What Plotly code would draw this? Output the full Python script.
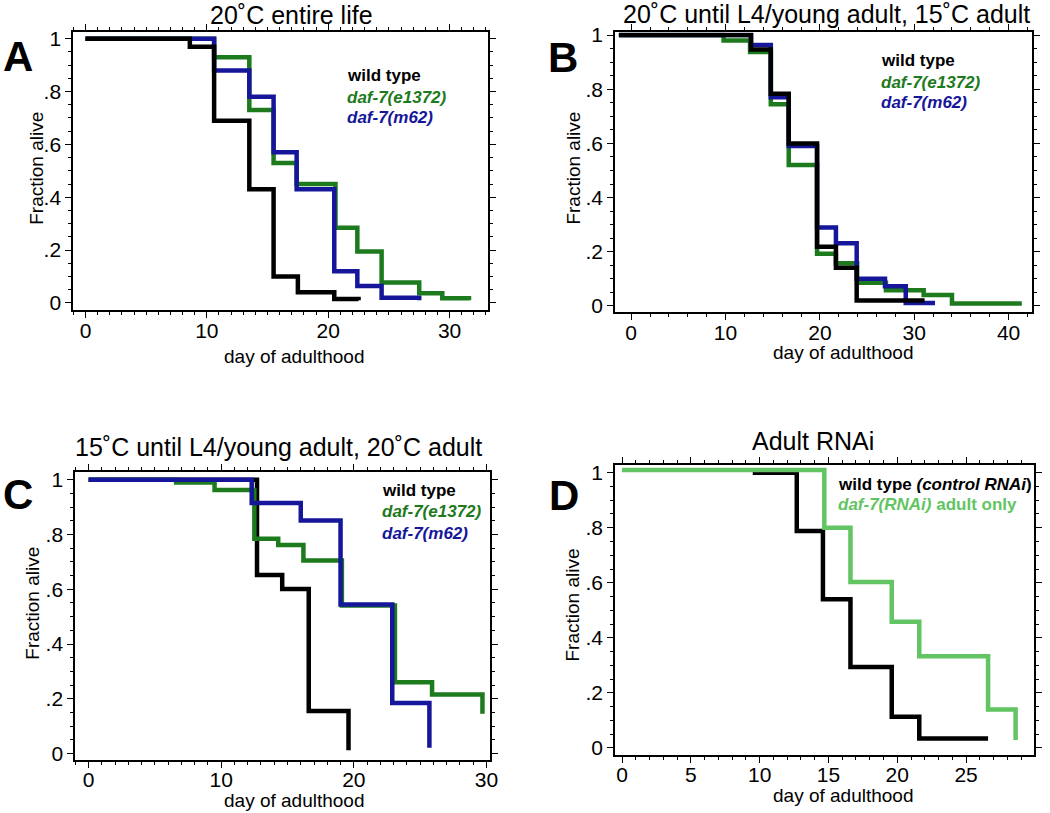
import plotly.graph_objects as go

# ---------------- data ----------------
# Panel A: 20˚C entire life
a_wt_x = [0, 8.6, 10.6, 13.5, 15.5, 17.5, 20.5, 22.5]
a_wt_y = [1.0, 0.97, 0.69, 0.43, 0.10, 0.04, 0.015, 0.01]
a_e1372_x = [0, 10.6, 13.5, 15.5, 17.4, 20.6, 22.4, 24.4, 27.5, 29.4, 31.6]
a_e1372_y = [1.0, 0.93, 0.73, 0.53, 0.45, 0.285, 0.195, 0.077, 0.037, 0.018, 0.01]
a_m62_x = [0, 10.6, 13.5, 15.5, 17.4, 20.5, 22.4, 24.4, 27.5]
a_m62_y = [1.0, 0.88, 0.78, 0.57, 0.43, 0.12, 0.064, 0.02, 0.01]

# Panel B: 20˚C until L4/young adult, 15˚C adult
b_wt_x = [-1.3, 12.7, 14.8, 16.7, 19.7, 21.7, 23.9, 31.1]
b_wt_y = [1.0, 0.947, 0.783, 0.60, 0.218, 0.141, 0.02, 0.02]
b_e1372_x = [-1.3, 9.8, 12.6, 14.8, 16.7, 19.7, 21.7, 23.95, 27.0, 31.0, 34.0, 41.4]
b_e1372_y = [1.0, 0.98, 0.938, 0.745, 0.52, 0.192, 0.157, 0.085, 0.058, 0.04, 0.009, 0.009]
b_m62_x = [-1.3, 12.7, 14.8, 16.7, 19.7, 21.7, 23.9, 26.9, 29.1, 32.2]
b_m62_y = [1.0, 0.963, 0.77, 0.59, 0.289, 0.231, 0.10, 0.072, 0.01, 0.01]

# Panel C: 15˚C until L4/young adult, 20˚C adult
c_wt_x = [0, 12.7, 14.6, 16.6, 19.6]
c_wt_y = [1.0, 0.652, 0.601, 0.156, 0.012]
c_e1372_x = [0, 6.6, 9.5, 12.5, 14.3, 16.2, 19.1, 23.1, 25.9, 29.7]
c_e1372_y = [1.0, 0.99, 0.962, 0.784, 0.762, 0.705, 0.541, 0.261, 0.216, 0.146]
c_m62_x = [0, 12.3, 16.0, 19.0, 22.9, 25.7]
c_m62_y = [1.0, 0.915, 0.851, 0.544, 0.185, 0.022]

# Panel D: Adult RNAi
d_wt_x = [9.5, 12.7, 14.6, 16.6, 19.6, 21.6, 26.6]
d_wt_y = [1.0, 0.788, 0.54, 0.294, 0.113, 0.034, 0.034]
d_rnai_x = [0, 14.7, 16.6, 19.6, 21.6, 26.6, 28.6]
d_rnai_y = [1.01, 0.80, 0.603, 0.458, 0.333, 0.139, 0.028]

y_tickvals = [0, 0.2, 0.4, 0.6, 0.8, 1.0]
y_ticktext = ["0", ".2", ".4", ".6", ".8", "1"]
a_xticks = [0, 10, 20, 30]
b_xticks = [0, 10, 20, 30, 40]
c_xticks = [0, 10, 20, 30]
d_xticks = [0, 5, 10, 15, 20, 25, 30]

titles = ["20˚C entire life",
          "20˚C until L4/young adult, 15˚C adult",
          "15˚C until L4/young adult, 20˚C adult",
          "Adult RNAi"]
panel_letters = ["A", "B", "C", "D"]

# ---------------- style ----------------
BLACK = "#000000"
GREEN = "#1d7a1d"
BLUE = "#16169a"
LGREEN = "#62c462"
FONT = "Liberation Sans, Arial, Helvetica, sans-serif"
W, H = 1050, 813

# compensation for the way the page is photographed
def tx(v):
    return (v + 2.5) / 0.9946

def ty(v):
    return (v - 8.6) / 0.983

def px_x(v):
    return tx(v) / W

def px_y(v):
    return 1 - ty(v) / H

fig = go.Figure()

def add_line(x, y, color, xa, ya):
    fig.add_trace(go.Scatter(x=x, y=y, mode="lines", line=dict(color=color, width=4.5, shape="hv"),
                             xaxis=xa, yaxis=ya, showlegend=False, hoverinfo="skip"))

# draw order per panel
add_line(a_e1372_x, a_e1372_y, GREEN, "x", "y")
add_line(a_m62_x, a_m62_y, BLUE, "x", "y")
add_line(a_wt_x, a_wt_y, BLACK, "x", "y")

add_line(b_e1372_x, b_e1372_y, GREEN, "x2", "y2")
add_line(b_m62_x, b_m62_y, BLUE, "x2", "y2")
add_line(b_wt_x, b_wt_y, BLACK, "x2", "y2")

add_line(c_wt_x, c_wt_y, BLACK, "x3", "y3")
add_line(c_e1372_x, c_e1372_y, GREEN, "x3", "y3")
add_line(c_m62_x, c_m62_y, BLUE, "x3", "y3")

add_line(d_wt_x, d_wt_y, BLACK, "x4", "y4")
add_line(d_rnai_x, d_rnai_y, LGREEN, "x4", "y4")

# panel geometry in pixels: left, right, top, bottom
boxes = [(71, 487, 32, 310), (614, 1032, 32, 312), (73, 489, 472, 760), (614, 1034, 465, 755)]
xranges = [[-1.0, 33.2], [-1.7, 42.5], [-1.0, 30.3], [-0.5, 29.95]]
yranges = [[-0.028, 1.024], [-0.024, 1.01], [-0.024, 1.027], [-0.027, 1.027]]
xtickvals = [a_xticks, b_xticks, c_xticks, d_xticks]
xminor = [1, 2, 1, 1]

axis_font = dict(family=FONT, size=21, color="black")
for i in range(4):
    l, r, t, b = boxes[i]
    sfx = "" if i == 0 else str(i + 1)
    fig.layout["xaxis" + sfx] = dict(
        domain=[px_x(l), px_x(r)], range=xranges[i], anchor="y" + sfx,
        tickmode="array", tickvals=xtickvals[i], ticks="outside", ticklen=6, tickwidth=1.2,
        tickcolor="black", showline=True, linecolor="black", linewidth=2, mirror="ticks",
        showgrid=False, zeroline=False, tickfont=axis_font, ticklabelstandoff=-6,
        minor=dict(dtick=xminor[i], tick0=0, ticks="outside", ticklen=3, tickcolor="black", showgrid=False),
    )
    fig.layout["yaxis" + sfx] = dict(
        domain=[px_y(b), px_y(t)], range=yranges[i], anchor="x" + sfx,
        tickmode="array", tickvals=y_tickvals, ticktext=y_ticktext, ticks="outside", ticklen=6,
        tickwidth=1.2, tickcolor="black", showline=True, linecolor="black", linewidth=2, mirror="ticks",
        showgrid=False, zeroline=False, tickfont=axis_font, ticklabelstandoff=0,
        minor=dict(dtick=0.05, tick0=0, ticks="outside", ticklen=3, tickcolor="black", showgrid=False),
    )

annotations = []

def ann(text, x, y, size, xanchor="center", yanchor="middle", angle=0, color="black"):
    annotations.append(dict(text=text, x=px_x(x), y=px_y(y), xref="paper", yref="paper",
                            showarrow=False, xanchor=xanchor, yanchor=yanchor, textangle=angle,
                            font=dict(family=FONT, size=size, color=color)))

# titles
title_pos = [(290, 15), (826, 14), (277, 447), (812, 441)]
for (tpx, tpy), tt in zip(title_pos, titles):
    ann(tt, tpx, tpy, 25)

# panel letters
letter_pos = [(16, 56), (562, 57), (16, 494), (563, 495)]
for (lx, ly), lt in zip(letter_pos, panel_letters):
    ann("<b>" + lt + "</b>", lx, ly, 42)

# axis titles
ylab_pos = [(34, 168), (572, 168), (30, 603), (571, 605)]
for (yx, yy) in ylab_pos:
    ann("Fraction alive", yx, yy, 19, angle=-90)
xlab_pos = [(293, 356), (843, 352), (293, 800), (843, 795)]
for (xx, xy) in xlab_pos:
    ann("day of adulthood", xx, xy, 19)

# legends
def legend3(x0, ys):
    ann("<b>wild type</b>", x0, ys[0], 17, xanchor="left", color=BLACK)
    ann("<b><i>daf-7(e1372)</i></b>", x0, ys[1], 17, xanchor="left", color=GREEN)
    ann("<b><i>daf-7(m62)</i></b>", x0, ys[2], 17, xanchor="left", color=BLUE)

legend3(343, [75, 97, 117])
legend3(878, [60, 82, 102])
legend3(378, [490, 511, 533])
ann("<b>wild type <i>(control RNAi</i>)</b>", 835, 484, 17, xanchor="left", color=BLACK)
ann("<b><i>daf-7(RNAi)</i> adult only</b>", 835, 504, 17, xanchor="left", color=LGREEN)

fig.update_layout(
    width=W, height=H, margin=dict(l=0, r=0, t=0, b=0),
    paper_bgcolor="white", plot_bgcolor="white",
    annotations=annotations, showlegend=False,
    font=dict(family=FONT, color="black"),
)

fig.write_html("out.html", config={"displayModeBar": False},
               post_script="document.body.style.margin='0';document.body.style.overflow='hidden';")
